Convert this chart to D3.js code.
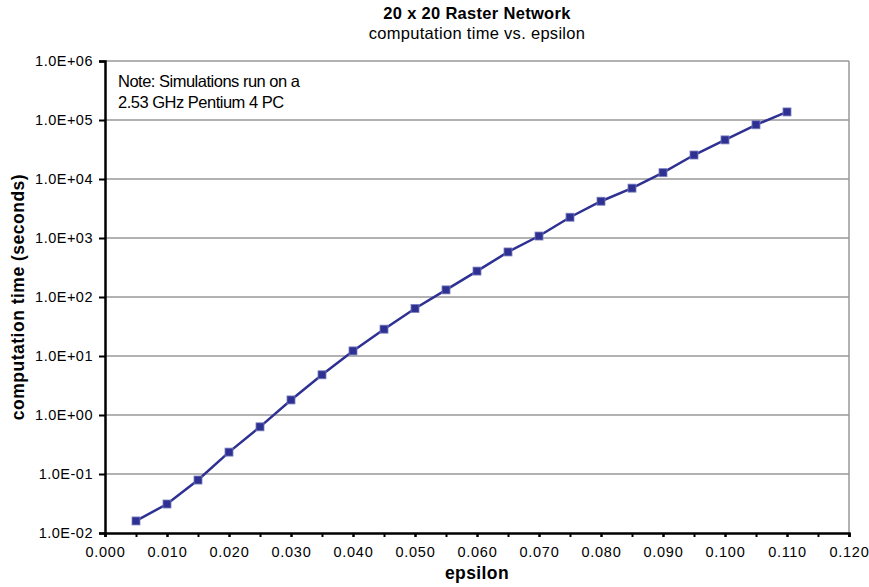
<html>
<head>
<meta charset="utf-8">
<title>20 x 20 Raster Network</title>
<script src="https://d3js.org/d3.v7.min.js"></script>
<style>
  body { margin: 0; background: #fff; }
  text { font-family: "Liberation Sans", Arial, sans-serif; }
</style>
</head>
<body>
<svg width="869" height="587"></svg>
<script>
// data
var epsilon = [0.005, 0.010, 0.015, 0.020, 0.025, 0.030, 0.035, 0.040, 0.045, 0.050, 0.055,
               0.060, 0.065, 0.070, 0.075, 0.080, 0.085, 0.090, 0.095, 0.100, 0.105, 0.110];
var seconds = [0.016, 0.031, 0.079, 0.235, 0.63, 1.8, 4.8, 12.2, 28.5, 64, 132,
               275, 580, 1080, 2250, 4200, 7000, 12800, 25500, 46000, 83000, 137000];
var xTicks = [0, 0.01, 0.02, 0.03, 0.04, 0.05, 0.06, 0.07, 0.08, 0.09, 0.10, 0.11, 0.12];
var yTicks = [1e-2, 1e-1, 1, 1e1, 1e2, 1e3, 1e4, 1e5, 1e6];
var yTickLabels = ["1.0E-02", "1.0E-01", "1.0E+00", "1.0E+01", "1.0E+02", "1.0E+03", "1.0E+04", "1.0E+05", "1.0E+06"];

var margin = {top: 61, right: 20, bottom: 54, left: 105};
var width = 869 - margin.left - margin.right;
var height = 587 - margin.top - margin.bottom;

var svg = d3.select("svg");
var g = svg.append("g").attr("transform", "translate(" + margin.left + "," + margin.top + ")");

var x = d3.scaleLinear().domain([0, 0.12]).range([0, width]);
var y = d3.scaleLog().domain([1e-2, 1e6]).range([height, 0]);

// gridlines
g.selectAll("line.grid").data(yTicks.slice(1)).join("line")
  .attr("class", "grid")
  .attr("x1", 0).attr("x2", width)
  .attr("y1", d => y(d)).attr("y2", d => y(d))
  .attr("stroke", "#999").attr("stroke-width", 1.5);

// right border
g.append("line").attr("x1", width).attr("x2", width).attr("y1", 0).attr("y2", height)
  .attr("stroke", "#999").attr("stroke-width", 1.5);

// x axis
var minorX = d3.range(0, 25).map(i => i * 0.005);
g.append("g").attr("transform", "translate(0," + height + ")")
  .call(d3.axisBottom(x).tickValues(minorX).tickSize(4).tickFormat(""))
  .call(a => a.select(".domain").remove())
  .call(a => a.selectAll("line").attr("stroke", "#000").attr("stroke-width", 2));
var xAxis = g.append("g").attr("transform", "translate(0," + height + ")")
  .call(d3.axisBottom(x).tickValues(xTicks).tickSize(4).tickPadding(10).tickFormat(d3.format(".3f")));
xAxis.select(".domain").attr("stroke", "#000").attr("stroke-width", 2.5);
xAxis.selectAll("line").attr("stroke", "#000").attr("stroke-width", 2);
xAxis.selectAll("text").attr("font-size", 14.5).attr("fill", "#000").attr("letter-spacing", 0.7)
  .attr("font-family", "'Liberation Sans', Arial, sans-serif");

// y axis
var yAxis = g.append("g")
  .call(d3.axisLeft(y).tickValues(yTicks).tickSize(6).tickPadding(6).tickFormat((d, i) => yTickLabels[i]));
yAxis.select(".domain").attr("stroke", "#000").attr("stroke-width", 2.5);
yAxis.selectAll("line").attr("stroke", "#000").attr("stroke-width", 2);
yAxis.selectAll("text").attr("font-size", 14.5).attr("fill", "#000").attr("letter-spacing", 0.5)
  .attr("font-family", "'Liberation Sans', Arial, sans-serif");

// series line
var pts = epsilon.map((e, i) => [e, seconds[i]]);
g.append("path").datum(pts)
  .attr("fill", "none").attr("stroke", "#2e3192").attr("stroke-width", 2.5)
  .attr("d", d3.line().x(d => x(d[0])).y(d => y(d[1])));

g.selectAll("rect.mk").data(pts).join("rect")
  .attr("class", "mk")
  .attr("x", d => x(d[0]) - 4).attr("y", d => y(d[1]) - 4)
  .attr("width", 8).attr("height", 8)
  .attr("fill", "#2e3192").attr("stroke", "#7b7fc0").attr("stroke-width", 0.8);

// note
var note = g.append("text")
  .attr("font-family", "'Open Sans', 'Noto Sans', sans-serif").attr("font-size", 16.5)
  .attr("letter-spacing", -0.5).attr("fill", "#000");
note.append("tspan").attr("x", 13).attr("y", 26).text("Note: Simulations run on a");
note.append("tspan").attr("x", 13).attr("y", 47).text("2.53 GHz Pentium 4 PC");

// titles
svg.append("text").attr("x", margin.left + width / 2).attr("y", 19)
  .attr("text-anchor", "middle").attr("font-size", 16.5).attr("font-weight", "bold")
  .attr("letter-spacing", 0.3)
  .text("20 x 20 Raster Network");
svg.append("text").attr("x", margin.left + width / 2).attr("y", 39)
  .attr("text-anchor", "middle").attr("font-size", 16.5).attr("letter-spacing", 0.3)
  .text("computation time vs. epsilon");

svg.append("text").attr("x", margin.left + width / 2).attr("y", 579)
  .attr("text-anchor", "middle").attr("font-size", 17.5).attr("font-weight", "bold")
  .attr("letter-spacing", 0.4)
  .text("epsilon");
svg.append("text")
  .attr("transform", "translate(24," + (margin.top + height / 2) + ") rotate(-90)")
  .attr("text-anchor", "middle").attr("font-size", 17.5).attr("font-weight", "bold")
  .attr("letter-spacing", 0.5)
  .text("computation time (seconds)");
</script>
</body>
</html>
